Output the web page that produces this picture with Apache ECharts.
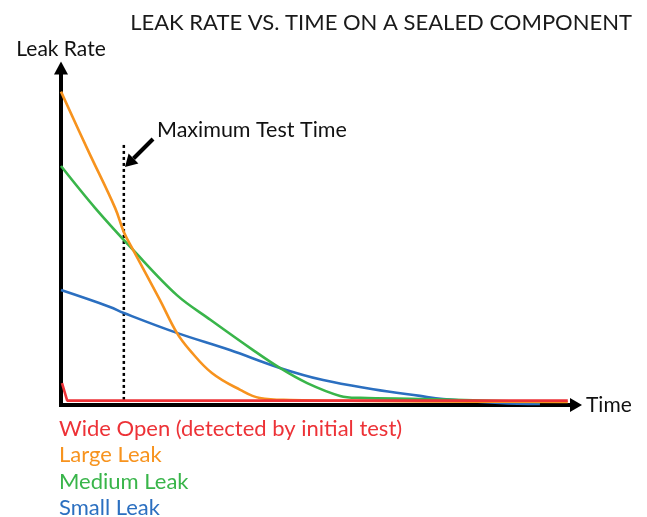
<!DOCTYPE html>
<html>
<head>
<meta charset="utf-8">
<script src="https://cdn.jsdelivr.net/npm/echarts@6/dist/echarts.min.js"></script>
<style>
  html, body { margin: 0; padding: 0; background: #fff; }
  #chart { width: 647px; height: 517px; }
</style>
</head>
<body>
<div id="chart"></div>
<script>
// series names (legend order)
const seriesNames = ['Wide Open (detected by initial test)', 'Large Leak', 'Medium Leak', 'Small Leak'];
const seriesColors = ['#ed3237', '#f7931e', '#39b54a', '#2b6fc0'];

// [time, leak rate], both on a 0-100 scale
const wideOpen = [[0.2, 6.5], [1.2, 1.3], [98.4, 1.3]];
const largeLeak = [[0, 93], [5.2, 75.7], [10.5, 58.5], [12.2, 51.3], [14, 46], [19.2, 31.2],
  [22.5, 21.4], [25, 16.3], [29.3, 9.5], [34.8, 4.5], [38.6, 2.1], [44.5, 1.5], [60, 1.2],
  [80, 1.0], [98.4, 0.9]];
const mediumLeak = [[0, 70.9], [6.6, 58.5], [14, 46], [22.5, 32.6], [29, 25.3],
  [37.3, 16.3], [42.5, 11], [47.8, 6.5], [54.2, 2.7], [58.1, 2.1],
  [69.7, 1.8], [80, 1.4], [93, 0.9]];
const smallLeak = [[0, 34.1], [9.5, 29.1], [12.2, 27.3], [22.5, 21.4], [32.8, 16.3],
  [42.5, 11], [50.9, 7.4], [60.6, 4.7], [69.7, 2.7], [74.2, 1.8], [85.2, 0.6], [93, 0.3]];

// maximum test time marker
const maxTestTime = 12.2;
const maxTestLine = [[maxTestTime, 1.5], [maxTestTime, 77.7]];

const font = 'Lato, "Open Sans", sans-serif';

let myChart = echarts.init(document.getElementById('chart'));

function curve(name, data, color, smooth) {
  return {
    name: name,
    type: 'line',
    data: data,
    smooth: smooth,
    showSymbol: false,
    symbol: 'none',
    lineStyle: { color: color, width: 2.6 },
    itemStyle: { color: color },
    z: 3
  };
}

let option = {
  backgroundColor: '#fff',
  animation: false,
  title: {
    text: 'LEAK RATE VS. TIME ON A SEALED COMPONENT',
    right: 10,
    top: 7,
    textStyle: { fontFamily: font, fontSize: 22, fontWeight: 'normal', color: '#1a1a1a' }
  },
  legend: {
    orient: 'vertical',
    left: 54,
    top: 418,
    height: 110,
    padding: 0,
    itemWidth: 0,
    itemHeight: 0,
    itemGap: 4.4,
    selectedMode: false,
    textStyle: { fontFamily: font, fontSize: 22, lineHeight: 20 },
    data: seriesNames.map((n, i) => ({ name: n, icon: 'none', textStyle: { color: seriesColors[i] } }))
  },
  grid: { left: 61, right: 71, top: 68, bottom: 112 },
  xAxis: {
    type: 'value',
    min: 0,
    max: 100,
    name: 'Time',
    nameGap: 10,
    nameTextStyle: { fontFamily: font, fontSize: 21, color: '#111', verticalAlign: 'middle' },
    axisLine: {
      show: true,
      symbol: ['none', 'triangle'],
      symbolSize: [14, 12],
      lineStyle: { color: '#000', width: 4, cap: 'square' }
    },
    axisTick: { show: false },
    axisLabel: { show: false },
    splitLine: { show: false }
  },
  yAxis: {
    type: 'value',
    min: 0,
    max: 100,
    name: 'Leak Rate',
    nameGap: 8,
    nameTextStyle: { fontFamily: font, fontSize: 21, color: '#111' },
    axisLine: {
      show: true,
      symbol: ['none', 'triangle'],
      symbolSize: [14, 13],
      lineStyle: { color: '#000', width: 4 }
    },
    axisTick: { show: false },
    axisLabel: { show: false },
    splitLine: { show: false }
  },
  series: [
    {
      name: 'Maximum Test Time',
      type: 'line',
      data: maxTestLine,
      showSymbol: false,
      symbol: 'none',
      lineStyle: { color: '#000', width: 2.5, type: [3, 3] },
      z: 2
    },
    curve(seriesNames[3], smallLeak, seriesColors[3], 0.4),
    curve(seriesNames[2], mediumLeak, seriesColors[2], 0.35),
    curve(seriesNames[1], largeLeak, seriesColors[1], 0.4),
    curve(seriesNames[0], wideOpen, seriesColors[0], false)
  ],
  graphic: [
    // annotation arrow pointing at the max test time line
    {
      type: 'line',
      shape: { x1: 153, y1: 139, x2: 133.5, y2: 158.5 },
      style: { stroke: '#000', lineWidth: 4 }
    },
    {
      type: 'polygon',
      shape: { points: [[125, 167], [138.4, 163.4], [128.6, 153.6]] },
      style: { fill: '#000' }
    },
    {
      type: 'text',
      left: 157,
      top: 119,
      style: { text: 'Maximum Test Time', font: '21.5px ' + font, fill: '#111' }
    }
  ]
};

option && myChart.setOption(option);
</script>
</body>
</html>
